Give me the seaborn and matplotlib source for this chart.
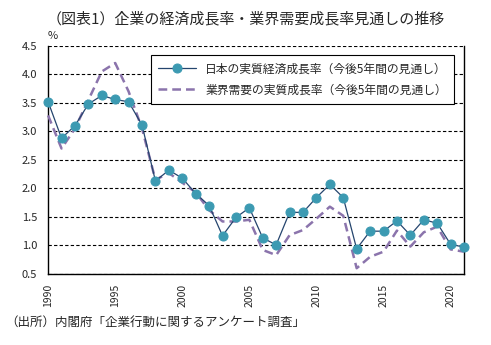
import matplotlib
matplotlib.use("Agg")
import matplotlib.pyplot as plt
import seaborn as sns
import pandas as pd

years = list(range(1990, 2022))
gdp_outlook = [3.52, 2.88, 3.10, 3.48, 3.63, 3.56, 3.52, 3.11, 2.13, 2.32,
               2.18, 1.91, 1.70, 1.17, 1.49, 1.66, 1.13, 1.01, 1.58, 1.58,
               1.84, 2.07, 1.84, 0.94, 1.25, 1.25, 1.43, 1.18, 1.45, 1.39,
               1.02, 0.97]
industry_outlook = [3.28, 2.70, 3.05, 3.55, 4.05, 4.20, 3.70, 3.05, 2.15, 2.27,
                    2.10, 1.93, 1.62, 1.42, 1.42, 1.45, 0.92, 0.83, 1.18, 1.27,
                    1.47, 1.68, 1.52, 0.60, 0.80, 0.89, 1.26, 0.98, 1.23, 1.33,
                    0.93, 0.89]
label_gdp = "日本の実質経済成長率（今後5年間の見通し）"
label_ind = "業界需要の実質成長率（今後5年間の見通し）"
title = "（図表1）企業の経済成長率・業界需要成長率見通しの推移"
source = "（出所）内閣府「企業行動に関するアンケート調査」"
xticks = [1990, 1995, 2000, 2005, 2010, 2015, 2020]
yticks = [0.5, 1.0, 1.5, 2.0, 2.5, 3.0, 3.5, 4.0, 4.5]

sns.set_style("white")
plt.rcParams['font.family'] = ['Noto Sans CJK JP', 'DejaVu Sans']

df = pd.DataFrame({"year": years, "gdp": gdp_outlook, "ind": industry_outlook})

fig = plt.figure(figsize=(4.91, 3.45), dpi=100)
ax = fig.add_axes([0.098, 0.206, 0.847, 0.661])

sns.lineplot(data=df, x="year", y="ind", ax=ax, color="#8B74AC", linewidth=1.8,
             linestyle=(0, (3.5, 2)), label=label_ind, zorder=3)
sns.lineplot(data=df, x="year", y="gdp", ax=ax, color="#25456E", linewidth=0.9,
             marker="o", markersize=6.5, markerfacecolor="#3C9AB2",
             markeredgecolor="#3C9AB2", label=label_gdp, zorder=4)
for ln in ax.lines:
    ln.set_clip_on(False)

ax.set_xlim(1990, 2021)
ax.set_ylim(0.5, 4.5)
ax.set_yticks(yticks)
ax.set_yticklabels([f"{v:.1f}" for v in yticks], fontsize=8)
ax.set_xticks(xticks)
ax.set_xticklabels([str(v) for v in xticks], rotation=90, fontsize=7.5)
ax.set_xlabel("")
ax.set_ylabel("")
ax.tick_params(axis="y", length=0, pad=8)
ax.tick_params(axis="x", length=0, pad=7)
ax.yaxis.grid(True, linestyle=(0, (3, 2)), color="black", linewidth=0.8)
ax.set_axisbelow(True)
for s in ["left", "bottom", "right"]:
    ax.spines[s].set_color("black")
    ax.spines[s].set_linewidth(1.0)
ax.spines["top"].set_visible(False)

handles, labels = ax.get_legend_handles_labels()
order = [labels.index(label_gdp), labels.index(label_ind)]
leg = ax.legend([handles[i] for i in order], [labels[i] for i in order],
                loc="upper right", bbox_to_anchor=(0.99, 0.985), fontsize=8.5,
                frameon=True, fancybox=False, edgecolor="black", framealpha=1,
                handlelength=3.2, borderpad=0.6, labelspacing=0.7)
leg.get_frame().set_linewidth(0.8)

fig.text(0.5, 0.945, title, ha="center", va="center", fontsize=10.8)
fig.text(0.098, 0.895, "%", ha="left", va="center", fontsize=8)
fig.text(0.01, 0.065, source, ha="left", va="center", fontsize=9)

fig.savefig("out.png", dpi=100)
